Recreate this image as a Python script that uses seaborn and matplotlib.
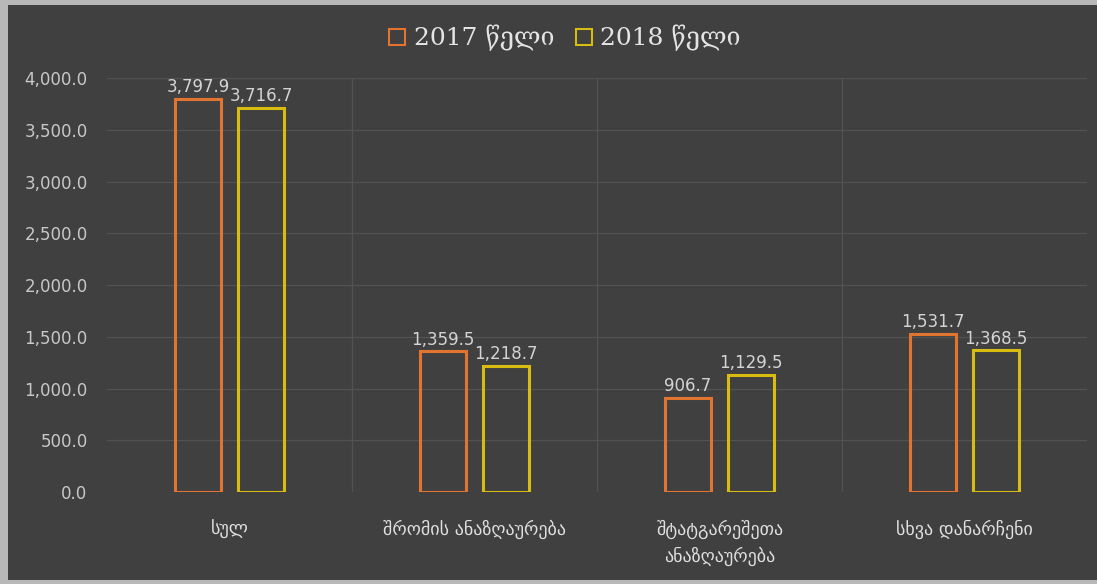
import pandas as pd
import seaborn as sns
import matplotlib.pyplot as plt
from matplotlib.patches import Rectangle
from matplotlib.lines import Line2D
from matplotlib.ticker import FuncFormatter, FixedLocator

# მონაცემები
categories = ['სულ', 'შრომის ანაზღაურება', 'შტატგარეშეთა\nანაზღაურება', 'სხვა დანარჩენი']
years = ['2017 წელი', '2018 წელი']
values_2017 = [3797.9, 1359.5, 906.7, 1531.7]
values_2018 = [3716.7, 1218.7, 1129.5, 1368.5]
colors = ['#e07430', '#d8bc10']

df = pd.DataFrame({
    'cat': categories * 2,
    'year': [years[0]] * 4 + [years[1]] * 4,
    'value': values_2017 + values_2018,
})

bg = '#404040'
sns.set_theme(style='dark')
plt.rcParams['font.family'] = ['DejaVu Sans']

fig = plt.figure(figsize=(10.97, 5.84), dpi=100)
fig.patch.set_facecolor('#b8b8b8')
fig.patches.append(Rectangle((8 / 1097, 4 / 584), 1 - 8 / 1097, 1 - 9 / 584,
                             transform=fig.transFigure, facecolor=bg,
                             edgecolor='none', zorder=-10))

ax = fig.add_axes([0.0975, 0.1575, 0.8935, 0.7085])
ax.set_facecolor(bg)

sns.barplot(data=df, x='cat', y='value', hue='year', palette=colors,
            width=0.514, gap=0.27, ax=ax, legend=False)

for patch, col in zip(ax.patches, [colors[0]] * 4 + [colors[1]] * 4):
    patch.set_facecolor('none')
    patch.set_edgecolor(col)
    patch.set_linewidth(2.2)

for cont in ax.containers:
    ax.bar_label(cont, labels=[f'{v:,.1f}' for v in cont.datavalues],
                 padding=2, color='#d4d4d4', fontsize=12)

ax.set_ylim(0, 4000)
ax.set_xlim(-0.5, 3.5)
ax.yaxis.set_major_locator(FixedLocator(range(0, 4001, 500)))
ax.yaxis.set_major_formatter(FuncFormatter(lambda v, p: f'{v:,.1f}'))
ax.xaxis.set_minor_locator(FixedLocator([0.5, 1.5, 2.5]))

ax.grid(axis='y', which='major', color='#525252', linewidth=0.9)
ax.grid(axis='x', which='minor', color='#525252', linewidth=0.9)
ax.grid(axis='x', which='major', visible=False)
for s in ax.spines.values():
    s.set_visible(False)

ax.tick_params(axis='y', colors='#c8c8c8', labelsize=12, length=0, pad=14)
ax.tick_params(axis='x', colors='#e0e0e0', labelsize=13, length=0, pad=20)
ax.tick_params(axis='x', which='minor', length=0)
for lbl in ax.get_xticklabels():
    lbl.set_linespacing(1.5)
ax.set_xlabel('')
ax.set_ylabel('')

handles = [Line2D([], [], marker='s', linestyle='none', markersize=11,
                  markerfacecolor='none', markeredgecolor=c, markeredgewidth=1.5)
           for c in colors]
fig.legend(handles, years, loc='center', bbox_to_anchor=(0.512, 0.935), ncol=2,
           frameon=False, handletextpad=0.05, columnspacing=0.6, handlelength=1.2,
           prop={'family': 'DejaVu Serif', 'size': 18}, labelcolor='#e4e4e4')

plt.savefig('out.png', dpi=100, facecolor=fig.get_facecolor())
